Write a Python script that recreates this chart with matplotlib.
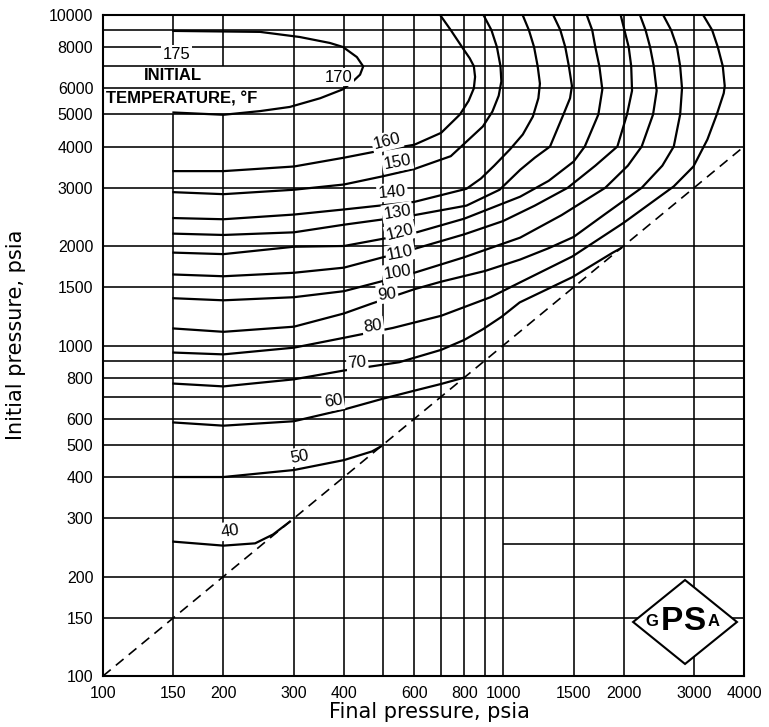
import matplotlib.pyplot as plt
from matplotlib.patches import Polygon
from matplotlib.ticker import NullLocator

# tick values
x_ticks = [100, 150, 200, 300, 400, 600, 800, 1000, 1500, 2000, 3000, 4000]
y_ticks = [100, 150, 200, 300, 400, 500, 600, 800, 1000, 1500, 2000, 3000,
           4000, 5000, 6000, 8000, 10000]

# grid lines drawn on the chart
h_grid = [150, 200, 300, 400, 500, 600, 700, 800, 900, 1000, 1500, 2000,
          3000, 4000, 5000, 6000, 7000, 8000, 9000]
v_grid = [300, 400, 500, 600, 700, 800, 900, 1000, 1500, 2000, 3000]

# curves: final pressure (x) and initial pressure (y), psia
p2_175 = [150, 247, 310, 369, 398, 431, 447, 439, 421, 398, 349, 293, 247, 200, 150]
p1_175 = [8950, 8890, 8580, 8230, 8000, 7460, 6990, 6600, 6290, 5960, 5600, 5270, 5120, 4990, 5070]

p2_160 = [150, 200, 300, 400, 500, 600, 700, 780, 820, 845, 851, 845, 825, 795, 740, 696]
p1_160 = [3370, 3370, 3480, 3700, 3900, 4050, 4400, 5000, 5500, 6000, 6500, 7000, 7400, 7900, 9000, 10000]

p2_150 = [150, 200, 300, 400, 500, 600, 740, 890, 940, 975, 990, 985, 965, 935, 893]
p1_150 = [2910, 2870, 2960, 3070, 3250, 3420, 3740, 4600, 5100, 5700, 6300, 7000, 8000, 9000, 10000]

p2_140 = [150, 200, 300, 400, 600, 810, 880, 950, 1040, 1120, 1187, 1225, 1236, 1220, 1195, 1160, 1119]
p1_140 = [2430, 2410, 2490, 2580, 2720, 2980, 3200, 3500, 3920, 4350, 4930, 5600, 6200, 7000, 8000, 9000, 10000]

p2_130 = [150, 200, 300, 400, 600, 810, 980, 1103, 1200, 1310, 1415, 1470, 1486, 1460, 1430, 1390, 1334]
p1_130 = [2180, 2160, 2200, 2320, 2480, 2650, 2960, 3400, 3700, 4000, 5000, 5600, 6100, 7000, 8000, 9000, 10000]

p2_120 = [150, 200, 300, 400, 600, 800, 1103, 1300, 1500, 1600, 1730, 1770, 1740, 1700, 1670, 1618]
p1_120 = [1910, 1890, 1990, 2000, 2190, 2420, 2820, 3150, 3600, 4000, 5000, 5950, 7000, 8000, 9000, 10000]

p2_110 = [150, 200, 300, 400, 600, 800, 1000, 1200, 1450, 1700, 1930, 2040, 2100, 2090, 2060, 2010, 1967]
p1_110 = [1640, 1620, 1660, 1720, 1960, 2170, 2380, 2650, 3000, 3500, 4000, 5000, 5900, 7000, 8000, 9000, 10000]

p2_100 = [150, 200, 300, 400, 600, 800, 1103, 1400, 1800, 2050, 2220, 2370, 2420, 2380, 2330, 2270, 2198]
p1_100 = [1390, 1370, 1400, 1460, 1660, 1850, 2120, 2480, 3000, 3500, 4000, 5000, 5900, 7000, 8000, 9000, 10000]

p2_90 = [150, 200, 300, 400, 470, 600, 700, 900, 1103, 1300, 1500, 1800, 2220, 2500, 2670, 2770, 2800, 2770, 2720, 2630, 2512]
p1_90 = [1126, 1100, 1140, 1250, 1340, 1480, 1560, 1680, 1820, 1970, 2130, 2500, 3000, 3500, 4000, 5000, 6000, 7000, 8000, 9000, 10000]

p2_80 = [150, 200, 300, 400, 530, 700, 930, 1100, 1490, 2000, 2670, 2990, 3240, 3420, 3560, 3580, 3540, 3440, 3330, 3162]
p1_80 = [952, 940, 985, 1055, 1130, 1230, 1400, 1550, 1860, 2350, 3030, 3480, 4200, 5000, 5800, 6100, 7000, 8000, 9000, 10000]

p2_70 = [150, 200, 300, 400, 550, 700, 800, 890, 990, 1100, 1490, 1880, 1970]
p1_70 = [767, 752, 790, 840, 890, 970, 1040, 1120, 1220, 1350, 1610, 1910, 1970]

p2_60 = [150, 200, 300, 400, 500, 600, 700, 800]
p1_60 = [585, 572, 590, 640, 690, 730, 765, 800]

p2_50 = [150, 200, 300, 400, 470, 495]
p1_50 = [400, 400, 420, 450, 478, 495]

p2_40 = [150, 200, 240, 266, 293]
p1_40 = [255, 248, 252, 268, 293]

# curve labels: text, x, y, rotation
label_text = ['175', '170', '160', '150', '140', '130', '120', '110', '100',
              '90', '80', '70', '60', '50', '40']
label_x = [153, 387, 513, 544, 528, 544, 553, 553, 544, 513, 473, 432, 376, 310, 208]
label_y = [7620, 6490, 4150, 3590, 2910, 2530, 2200, 1910, 1665, 1430, 1142, 888, 677, 461, 275]
label_rot = [0, 0, 14, 10, 5, 9, 14, 11, 9, 6, 8, 5, 9, 10, 8]

fig = plt.figure(figsize=(7.69, 7.27), dpi=100)
ax = fig.add_axes([103 / 769, 1 - 676 / 727, 641 / 769, 661 / 727])
ax.set_xscale('log')
ax.set_yscale('log')
ax.set_xlim(100, 4000)
ax.set_ylim(100, 10000)

# grid
glw = 1.15
for y in h_grid:
    ax.hlines(y, 100, 4000, color='black', lw=glw, zorder=1)
ax.hlines(250, 1000, 4000, color='black', lw=glw, zorder=1)
for x in v_grid:
    ax.vlines(x, 100, 10000, color='black', lw=glw, zorder=1)
ax.vlines(150, 100, 5000, color='black', lw=glw, zorder=1)
ax.vlines(150, 8000, 10000, color='black', lw=glw, zorder=1)
ax.vlines(200, 100, 5000, color='black', lw=glw, zorder=1)
ax.vlines(200, 7000, 10000, color='black', lw=glw, zorder=1)

# temperature curves
curves = [(p2_175, p1_175), (p2_160, p1_160), (p2_150, p1_150), (p2_140, p1_140),
          (p2_130, p1_130), (p2_120, p1_120), (p2_110, p1_110), (p2_100, p1_100),
          (p2_90, p1_90), (p2_80, p1_80), (p2_70, p1_70), (p2_60, p1_60),
          (p2_50, p1_50), (p2_40, p1_40)]
for xs, ys in curves:
    ax.plot(xs, ys, color='black', lw=1.6, solid_joinstyle='round', zorder=2)

# no-expansion line
ax.plot([100, 4000], [100, 4000], color='black', lw=1.2,
        linestyle=(0, (6, 4)), zorder=2)

for t, x, y, r in zip(label_text, label_x, label_y, label_rot):
    ax.text(x, y, t, ha='center', va='center', rotation=r, fontsize=12,
            family='Liberation Sans', zorder=3,
            bbox=dict(boxstyle='square,pad=0.1', fc='white', ec='none'))

ax.text(0.109, 0.909, 'INITIAL', transform=ax.transAxes, ha='center', va='center',
        fontsize=12, fontweight='bold', family='Liberation Sans', zorder=3)
ax.text(0.005, 0.873, 'TEMPERATURE, °F', transform=ax.transAxes, ha='left',
        va='center', fontsize=12, fontweight='bold', family='Liberation Sans', zorder=3)

# GPSA logo
cx, cy, hw, hh = 0.908, 0.0817, 0.081, 0.0635
ax.add_patch(Polygon([(cx - hw, cy), (cx, cy + hh), (cx + hw, cy), (cx, cy - hh)],
                     closed=True, transform=ax.transAxes, fc='white', ec='black',
                     lw=1.5, zorder=4))
for ch, dx, size in [('G', -0.052, 12), ('P', -0.021, 24), ('S', 0.014, 24), ('A', 0.045, 12)]:
    ax.text(cx + dx, cy, ch, transform=ax.transAxes, ha='center', va='center',
            fontsize=size, fontweight='bold', family='Liberation Sans', zorder=5)

ax.xaxis.set_minor_locator(NullLocator())
ax.yaxis.set_minor_locator(NullLocator())
ax.set_xticks(x_ticks)
ax.set_xticklabels([str(v) for v in x_ticks])
ax.set_yticks(y_ticks)
ax.set_yticklabels([str(v) for v in y_ticks])
ax.tick_params(length=0, pad=7, labelsize=11.5)
for lab in ax.get_xticklabels() + ax.get_yticklabels():
    lab.set_family('Liberation Sans')

for s in ax.spines.values():
    s.set_linewidth(1.5)

ax.set_xlabel('Final pressure, psia', fontsize=15, family='DejaVu Sans')
ax.xaxis.set_label_coords(0.51, -0.04)
ax.set_ylabel('Initial pressure, psia', fontsize=15, family='DejaVu Sans')
ax.yaxis.set_label_coords(-0.12, 0.516)

fig.savefig('out.png', dpi=100)
